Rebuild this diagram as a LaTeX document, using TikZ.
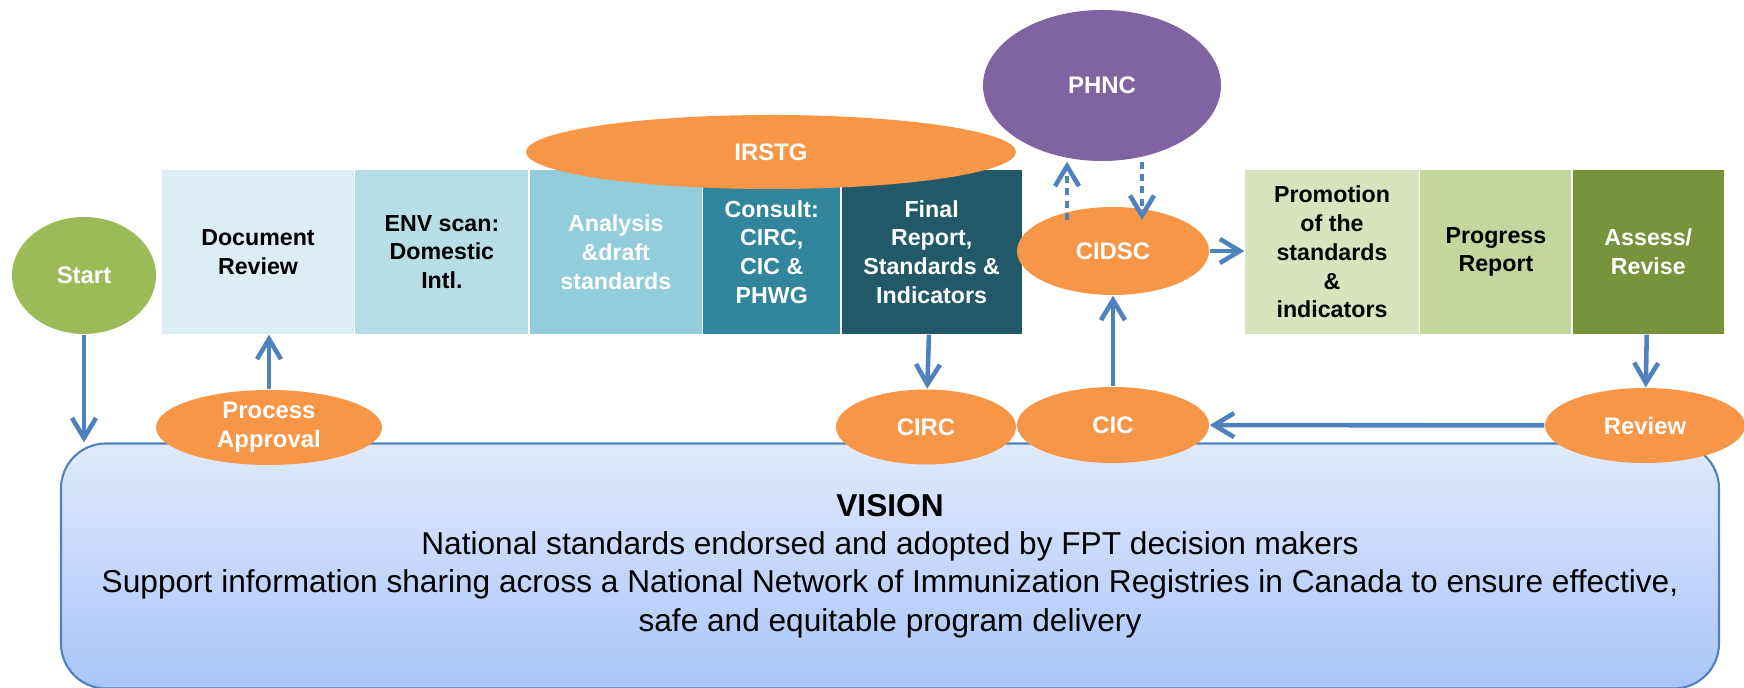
\documentclass[tikz,border=0pt]{standalone}
\usepackage{fontspec}
\setmainfont{Liberation Sans}
\usetikzlibrary{shapes.geometric,positioning,arrows.meta}

\definecolor{startgreen}{HTML}{9BBB59}
\definecolor{bloborange}{HTML}{F79646}
\definecolor{phncpurple}{HTML}{8064A2}
\definecolor{linkblue}{HTML}{4F81BD}
\definecolor{stepa}{HTML}{DAEEF3}
\definecolor{stepb}{HTML}{B7DEE8}
\definecolor{stepc}{HTML}{92CDDC}
\definecolor{stepd}{HTML}{31859C}
\definecolor{stepe}{HTML}{215968}
\definecolor{stepf}{HTML}{D7E4BD}
\definecolor{stepg}{HTML}{C3D69B}
\definecolor{steph}{HTML}{77933C}
\definecolor{visiontop}{HTML}{E0EAFC}
\definecolor{visionbot}{HTML}{A9C5F9}

\begin{document}
\begin{tikzpicture}[
    flow/.style={draw=linkblue, line width=1.3pt, -{Straight Barb[length=2mm,width=2.4mm]}},
    link/.style={flow, dash pattern=on 2pt off 1.5pt},
    stepbox/.style={shape=rectangle, minimum height=1.64cm, inner sep=0pt, align=center,
      font=\fontsize{6.6}{8.2}\selectfont\bfseries},
    blob/.style={shape=ellipse, inner sep=0pt, fill=bloborange, text=white, align=center,
      font=\fontsize{6.8}{8.2}\selectfont\bfseries},
  ]
  \useasboundingbox (0,0) rectangle (17.44,-6.88);

  \node[shape=rectangle, rounded corners=0.45cm, draw=linkblue, line width=0.6pt,
    top color=visiontop, bottom color=visionbot, minimum width=16.58cm, minimum height=2.45cm,
    align=center, font=\fontsize{9}{10.9}\selectfont] (vision) at (8.90,-5.66)
    {\textbf{VISION}\\National standards endorsed and adopted by FPT decision makers\\
     Support information sharing across a National Network of Immunization Registries in Canada to ensure effective,\\
     safe and equitable program delivery};

  \node[stepbox, fill=stepa, minimum width=1.92cm] (docrev) at (2.58,-2.52) {Document\\Review};
  \node[stepbox, fill=stepb, minimum width=1.73cm, right=0pt of docrev] (envscan) {ENV scan:\\Domestic\\Intl.};
  \node[stepbox, fill=stepc, minimum width=1.72cm, right=0pt of envscan, text=white] (analysis) {Analysis\\\&draft\\standards};
  \node[stepbox, fill=stepd, minimum width=1.37cm, right=0pt of analysis, text=white] (consult) {Consult:\\CIRC,\\CIC \&\\PHWG};
  \node[stepbox, fill=stepe, minimum width=1.80cm, right=0pt of consult, text=white] (final) {Final\\Report,\\Standards \&\\Indicators};

  \node[stepbox, fill=stepf, minimum width=1.74cm] (promo) at (13.32,-2.52) {Promotion\\of the\\standards\\\&\\indicators};
  \node[stepbox, fill=stepg, minimum width=1.51cm, right=0pt of promo] (progress) {Progress\\Report};
  \node[stepbox, fill=steph, minimum width=1.51cm, right=0pt of progress, text=white] (assess) {Assess/\\Revise};

  \node[blob, minimum width=4.90cm, minimum height=0.74cm] (irstg) at (7.71,-1.52) {IRSTG};
  \node[blob, fill=phncpurple, minimum width=2.38cm, minimum height=1.51cm] (phnc) at (11.02,-0.855) {PHNC};
  \node[blob, fill=startgreen, minimum width=1.44cm, minimum height=1.17cm] (start) at (0.84,-2.755) {Start};
  \node[blob, minimum width=1.92cm, minimum height=0.88cm] (cidsc) at (11.13,-2.51) {CIDSC};
  \node[blob, minimum width=2.26cm, minimum height=0.75cm] (approval) at (2.69,-4.275) {Process\\Approval};
  \node[blob, minimum width=1.80cm, minimum height=0.75cm] (circ) at (9.26,-4.27) {CIRC};
  \node[blob, minimum width=1.92cm, minimum height=0.76cm] (cic) at (11.13,-4.25) {CIC};
  \node[blob, minimum width=2.00cm, minimum height=0.75cm] (review) at (16.45,-4.255) {Review};

  \coordinate (up) at (10.67,-2.20);
  \coordinate (down) at (11.42,-2.20);

  \draw[flow] (start) -- (start |- vision.north);
  \draw[flow] (approval) -- (approval |- docrev.south);
  \draw[flow] (final) -- (circ);
  \draw[flow] (cic) -- (cidsc);
  \draw[flow] (cidsc) -- (cidsc -| promo.west);
  \draw[flow] (assess) -- (review);
  \draw[flow] (review) -- (cic);
  \draw[link] (up) -- (up |- phnc.south);
  \draw[link] (down |- phnc.south) -- (down);
\end{tikzpicture}
\end{document}
